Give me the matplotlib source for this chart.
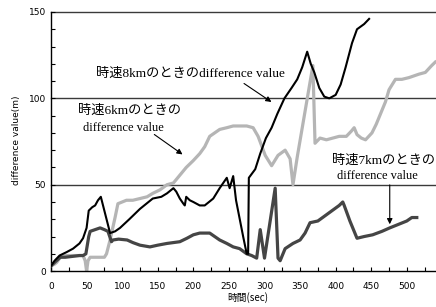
import matplotlib
matplotlib.use("Agg")
import matplotlib.pyplot as plt

# 時速8km
t_8 = [0, 5, 12, 22, 31, 40, 45, 50, 53, 58, 62, 66, 70, 83, 90, 97, 110, 125, 143, 155,
       163, 169, 172, 176, 181, 186, 188, 190, 195, 200, 209, 216, 222, 228, 237, 247, 251,
       256, 260, 270, 275, 277, 278, 287, 294, 302, 310, 318, 328, 338, 346, 353, 360, 365,
       370, 377, 384, 391, 400, 407, 414, 423, 430, 440, 447]
d_8 = [3, 6, 9, 11, 13, 16, 19, 25, 35, 37, 38, 41, 43, 22, 23, 25, 30, 36, 42, 43,
       45, 47, 48, 46, 42, 39, 38, 43, 41, 40, 38, 38, 40, 42, 48, 54, 48,
       55, 41, 20, 10, 10, 54, 59, 68, 77, 83, 91, 100, 106, 111, 118, 127, 120,
       115, 106, 101, 100, 102, 108, 118, 132, 140, 143, 146]

# 時速6km
t_6 = [0, 5, 8, 13, 20, 30, 40, 45, 48, 50, 52, 55, 65, 75, 78, 83, 90, 94, 100, 106,
       115, 125, 135, 143, 153, 163, 172, 180, 190, 200, 209, 216, 223, 230, 237, 247,
       256, 265, 275, 284, 291, 301, 310, 319, 329, 336, 340, 346, 368, 371, 378, 387,
       396, 405, 415, 422, 426, 430, 436, 442, 451, 457, 463, 470, 475, 484, 493, 503,
       510, 517, 526, 535, 540]
d_6 = [3, 4, 5, 8, 9, 9, 9, 9, 6, 0, 6, 8, 8, 8, 10, 18, 31, 39, 40, 41,
       41, 42, 43, 45, 47, 50, 51, 55, 60, 64, 68, 72, 78, 80, 82, 83,
       84, 84, 84, 83, 78, 67, 61, 67, 70, 65, 50, 66, 119, 74, 77, 76,
       77, 78, 78, 81, 83, 79, 77, 76, 80, 85, 91, 98, 105, 111, 111, 112,
       113, 114, 115, 119, 121]

# 時速7km
t_7 = [0, 5, 13, 20, 30, 40, 45, 49, 53, 55, 62, 69, 75, 80, 85, 87, 95, 107, 115, 125,
       139, 150, 163, 172, 181, 191, 200, 209, 223, 237, 247, 256, 265, 275, 282, 289,
       294, 300, 315, 319, 322, 329, 340, 350, 357, 364, 375, 385, 395, 405, 410, 412,
       420, 430, 440, 452, 465, 476, 488, 500, 507, 514]
d_7 = [3, 5, 8, 8, 8.5, 9, 9, 10, 20, 23, 24, 25, 24, 23, 17, 18, 18.5, 18, 16.5, 15,
       14, 15, 16, 16.5, 17, 19, 21, 22, 22, 18, 16, 14, 13, 10, 9, 7.5,
       24, 7.5, 48, 7.5, 6, 13, 16, 18, 22, 28, 29, 32, 35, 38, 40, 38,
       29, 19, 20, 21, 23, 25, 27, 29, 31, 31]

x_ticks = list(range(0, 501, 50))
y_ticks = [0, 50, 100, 150]

mixed = ["Liberation Serif", "Noto Sans CJK JP"]

fig = plt.figure(figsize=(4.36, 3.07), dpi=100)
ax = fig.add_axes([0.117, 0.117, 0.883, 0.844])

ax.plot(t_7, d_7, color="#454545", lw=2.3, zorder=3)
ax.plot(t_6, d_6, color="#b5b5b5", lw=2.3, zorder=2)
ax.plot(t_8, d_8, color="black", lw=1.5, zorder=4)

ax.set_xlim(0, 541)
ax.set_ylim(0, 150)
ax.set_xticks(x_ticks)
ax.set_xticks(range(0, 541, 25), minor=True)
ax.set_yticks(y_ticks)
ax.set_yticks(range(0, 151, 10), minor=True)
ax.tick_params(which="both", direction="in", length=3, width=0.8, labelsize=6.5)
ax.tick_params(axis="x", pad=8)
for lab in ax.get_xticklabels() + ax.get_yticklabels():
    lab.set_family("DejaVu Sans")

for y in y_ticks[1:]:
    ax.axhline(y, color="#3a3a3a", lw=1.0, zorder=1, clip_on=False)

ax.spines["top"].set_visible(False)
ax.spines["right"].set_visible(False)
ax.spines["left"].set_linewidth(1.0)
ax.spines["bottom"].set_linewidth(1.0)

ax.set_xlabel("時間(sec)", family="Noto Sans CJK JP", fontsize=7)
ax.xaxis.set_label_coords(0.51, -0.08)
ax.set_ylabel("difference value(m)", family="DejaVu Sans", fontsize=6.5)
ax.yaxis.set_label_coords(-0.078, 0.506)

ax.text(63, 114, "時速8kmのときのdifference value", family=mixed, fontsize=9.5,
        ha="left", va="center", zorder=5)
ax.annotate("", xy=(313, 97), xytext=(268, 109.5),
            arrowprops=dict(arrowstyle="-|>", color="black", lw=0.8, mutation_scale=8))

ax.text(38, 93, "時速6kmのときの", family=mixed, fontsize=9.5, ha="left", va="center", zorder=5)
ax.text(45, 83, "difference value", family=mixed, fontsize=9, ha="left", va="center", zorder=5)
ax.annotate("", xy=(188, 66.6), xytext=(142, 80),
            arrowprops=dict(arrowstyle="-|>", color="black", lw=0.8, mutation_scale=8))

ax.text(395, 64, "時速7kmのときの", family=mixed, fontsize=9.5, ha="left", va="center", zorder=5)
ax.text(402, 55, "difference value", family=mixed, fontsize=9, ha="left", va="center", zorder=5)
ax.annotate("", xy=(476, 25.5), xytext=(476, 51.5),
            arrowprops=dict(arrowstyle="-|>", color="black", lw=0.8, mutation_scale=8))

fig.savefig("out.png", dpi=100)
